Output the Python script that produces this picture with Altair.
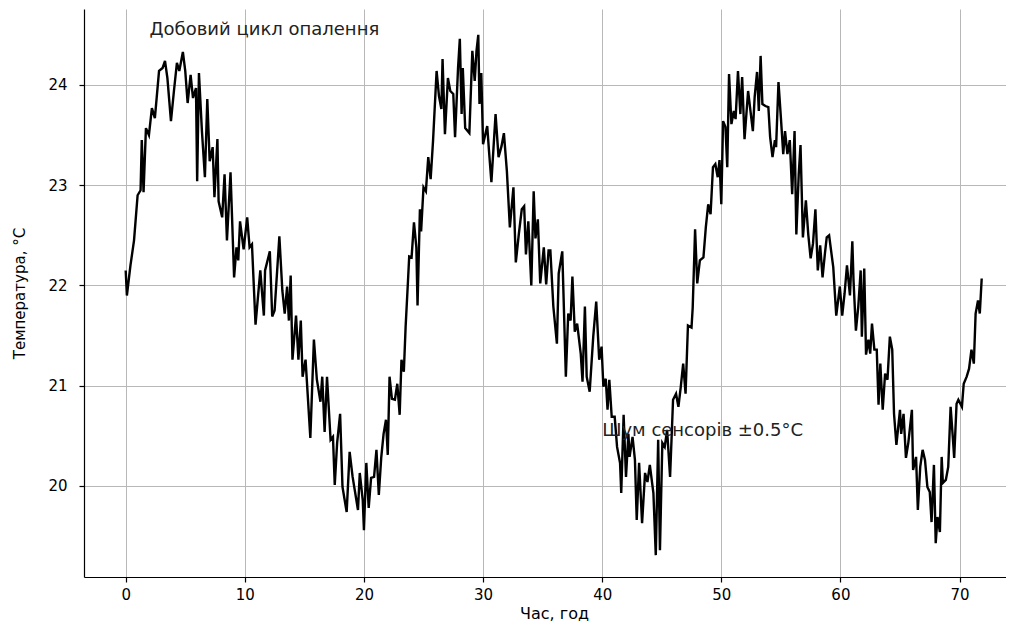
import altair as alt
import pandas as pd

hours = [
    0, 0.1, 0.4, 0.7, 1.0, 1.25, 1.35, 1.5, 1.7, 1.95, 2.2, 2.45, 2.8, 3.1, 3.3, 3.5, 3.8, 4.05, 4.3, 4.5,
    4.8, 5.0, 5.2, 5.45, 5.65, 5.9, 6.0, 6.15, 6.4, 6.65, 6.85, 7.05, 7.3, 7.45, 7.7, 7.8, 8.1, 8.3, 8.5, 8.8,
    9.1, 9.3, 9.45, 9.6, 9.9, 10.2, 10.4, 10.6, 10.9, 11.3, 11.6,
    11.7, 12.1, 12.3, 12.5, 12.9, 13.15, 13.35, 13.55, 13.7, 13.85, 14.0, 14.3, 14.5, 14.7, 14.85, 15.1, 15.5,
    15.8, 16.05, 16.35, 16.5, 16.7, 16.9, 17.2, 17.4, 17.55, 17.75, 18.0, 18.2, 18.55, 18.8, 19.05, 19.5, 19.65,
    19.9, 20.0, 20.2, 20.4, 20.6, 20.85, 21.05, 21.25, 21.45, 21.65, 21.85, 22.0, 22.15, 22.35, 22.6, 22.8,
    23.0, 23.15, 23.35, 23.5, 23.7, 23.8,
    24.0, 24.2, 24.4, 24.5, 24.7, 24.8, 25.0, 25.2, 25.4, 25.6, 25.8, 26.1, 26.3, 26.5, 26.6, 26.8, 27.05,
    27.25, 27.5, 27.65, 27.9, 28.05, 28.2, 28.3, 28.5, 28.85, 29.1, 29.3, 29.45, 29.6, 29.7, 29.85, 30.0,
    30.35, 30.5, 30.7, 31.05, 31.3, 31.55, 31.75, 32.0, 32.25, 32.55, 32.75, 33.0, 33.25, 33.45, 33.6, 33.8,
    34.05, 34.25, 34.4, 34.6, 34.8, 35.1, 35.3, 35.5,
    35.65, 35.9, 36.2, 36.35, 36.65, 36.95, 37.15, 37.35, 37.5, 37.7, 37.9, 38.2, 38.35, 38.55, 38.7, 38.95,
    39.25, 39.5, 39.75, 39.95, 40.1, 40.3, 40.45, 40.6, 40.8, 41.05, 41.25, 41.5, 41.6, 41.8, 42.0, 42.2,
    42.3, 42.55, 42.75, 42.9, 43.1, 43.35, 43.6, 43.8, 44.0, 44.3, 44.5, 44.7, 44.85, 45.05, 45.25, 45.45,
    45.7, 45.95, 46.2, 46.4, 46.6, 46.8, 47.0, 47.2,
    47.5, 47.6, 47.8, 47.98, 48.2, 48.5, 48.7, 48.9, 49.1, 49.3, 49.5, 49.7, 49.85, 50.0, 50.15, 50.35,
    50.5, 50.65, 50.85, 51.05, 51.2, 51.4, 51.6, 51.75, 51.95, 52.25, 52.45, 52.65, 52.8, 53.0, 53.15, 53.3,
    53.45, 53.7, 53.95, 54.1, 54.3, 54.5, 54.6, 54.8, 55.0, 55.2, 55.35, 55.55, 55.75, 55.95, 56.15, 56.3,
    56.5, 56.65, 56.85, 57.1, 57.3, 57.5, 57.7, 57.9, 58.1, 58.3, 58.5, 58.7, 58.85, 59.05,
    59.4, 59.65, 59.95, 60.15, 60.35, 60.55, 60.8, 61.0, 61.1, 61.3, 61.5, 61.7, 61.8, 62.0, 62.15, 62.35,
    62.5, 62.65, 62.85, 63.05, 63.2, 63.35, 63.55, 63.75, 63.95, 64.15, 64.35, 64.5, 64.7, 65.0, 65.1, 65.3,
    65.5, 65.7, 66.0, 66.1, 66.35, 66.5, 66.7, 66.9, 67.1, 67.3, 67.5, 67.65, 67.85, 68.0, 68.15, 68.35,
    68.5, 68.6, 68.85, 69.05, 69.25, 69.45, 69.55, 69.75, 69.9, 70.2, 70.35, 70.6, 70.8, 71.0, 71.2, 71.35,
    71.55, 71.7, 71.86,
]

temps = [
    22.15, 21.9, 22.2, 22.45, 22.9, 22.95, 23.45, 22.93, 23.57, 23.5, 23.77, 23.67, 24.14, 24.17, 24.24, 24.07, 23.64, 23.94, 24.22, 24.14,
    24.33, 24.14, 23.82, 24.1, 23.87, 23.97, 23.04, 24.12, 23.54, 23.08, 23.86, 23.24, 23.38, 22.88, 23.46, 22.84, 22.68, 23.11, 22.45, 23.13,
    22.08, 22.38, 22.25, 22.64, 22.36, 22.68, 22.38, 22.41, 21.61, 22.15, 21.7,
    22.15, 22.34, 21.69, 21.75, 22.49, 21.95, 21.72, 21.99, 21.65, 22.1, 21.26, 21.7, 21.26, 21.65, 21.09, 21.26, 20.48,
    21.46, 21.06, 20.84, 21.09, 20.54, 21.09, 20.46, 20.49, 20.01, 20.43, 20.72, 19.99, 19.74, 20.34, 20.09, 19.76, 20.13,
    19.86, 19.56, 20.23, 19.78, 20.08, 20.09, 20.36, 19.91, 20.28, 20.52, 20.66, 20.31, 21.09, 20.87, 20.86, 21.02,
    20.71, 21.26, 21.14, 21.59, 22.05, 22.29,
    22.28, 22.63, 22.38, 21.8, 22.76, 22.54, 22.98, 22.94, 23.28, 23.06, 23.44, 24.14, 23.89, 23.76, 24.26, 23.51, 24.07,
    23.94, 23.91, 23.48, 24.17, 24.46, 23.71, 24.17, 23.57, 23.52, 24.34, 24.04, 24.34, 24.5, 23.81, 24.12, 23.41,
    23.59, 23.34, 23.03, 23.71, 23.28, 23.39, 23.52, 23.14, 22.58, 22.98, 22.23, 22.51, 22.76, 22.79, 22.31, 22.64,
    22.0, 22.94, 22.47, 22.66, 22.02, 22.38, 22.01, 22.35,
    22.35, 21.79, 21.42, 22.12, 22.34, 21.09, 21.72, 21.65, 22.09, 21.54, 21.62, 21.32, 21.04, 21.79, 21.09, 20.94,
    21.49, 21.84, 21.26, 21.39, 20.99, 21.07, 20.76, 21.06, 20.69, 20.69, 20.39, 20.23, 19.93, 20.71, 20.09, 20.52,
    20.29, 20.49, 20.26, 19.66, 20.23, 19.63, 20.13, 20.04, 20.21, 19.93, 19.31, 20.46, 19.36, 20.43, 20.39, 20.56,
    20.09, 20.86, 20.92, 20.79, 20.99, 21.22, 20.92, 21.6,
    21.58, 21.78, 22.56, 22.02, 22.25, 22.28, 22.58, 22.81, 22.71, 23.18, 23.21, 23.08, 23.25, 22.81, 23.64, 23.58,
    23.18, 24.11, 23.61, 23.74, 23.66, 24.14, 23.71, 24.08, 23.46, 23.94, 23.74, 23.54, 23.88, 24.13, 23.74, 24.29,
    23.81, 23.79, 23.78, 23.48, 23.28, 23.45, 23.38, 24.03, 23.68, 23.31, 23.54, 23.31, 23.45, 22.91, 23.54, 22.51,
    23.11, 23.4, 22.48, 22.85, 22.51, 22.27, 22.42, 22.76, 22.15, 22.4, 22.08, 22.32, 22.48, 22.5,
    22.18, 21.7, 21.99, 21.7, 21.92, 22.2, 21.9, 22.44, 22.05, 21.55, 21.79, 22.15, 21.49, 22.17, 21.31, 21.46,
    21.32, 21.62, 21.36, 21.36, 20.81, 21.22, 20.76, 21.12, 21.06, 21.49, 21.36, 20.72, 20.41, 20.76, 20.52, 20.72,
    20.28, 20.43, 20.76, 20.16, 20.29, 19.76, 20.19, 20.36, 20.26, 19.99, 19.94, 19.64, 20.21, 19.43, 19.69, 19.54,
    20.29, 20.03, 20.06, 20.19, 20.79, 20.46, 20.28, 20.82, 20.86, 20.79, 21.02, 21.09, 21.17, 21.36, 21.22, 21.72,
    21.85, 21.72, 22.07,
]

note_x = [2, 40]
note_y = [24.5, 20.5]
note_text = ["Добовий цикл опалення", "Шум сенсорів ±0.5°C"]

x_ticks = [0, 10, 20, 30, 40, 50, 60, 70]
y_ticks = [20, 21, 22, 23, 24]

df = pd.DataFrame({"hour": hours, "temp": temps})
notes = pd.DataFrame({"x": note_x, "y": note_y, "text": note_text})

FONT = "DejaVu Sans"

xscale = alt.Scale(domain=[-3.5, 73.9], nice=False, zero=False)
yscale = alt.Scale(domain=[19.092, 24.758], nice=False, zero=False)

line = alt.Chart(df).mark_line(color="black", strokeWidth=2.4).encode(
    x=alt.X("hour:Q", scale=xscale,
            axis=alt.Axis(title="Час, год", values=x_ticks, format="d",
                          titleX=470, titlePadding=3, labelPadding=5,
                          titleFontSize=16)),
    y=alt.Y("temp:Q", scale=yscale,
            axis=alt.Axis(title="Температура, °C", values=y_ticks, format="d",
                          labelPadding=12, titlePadding=20)),
)

text = alt.Chart(notes).mark_text(
    align="left", baseline="alphabetic", font=FONT, fontSize=18, color="#222222"
).encode(
    x=alt.X("x:Q", scale=xscale),
    y=alt.Y("y:Q", scale=yscale),
    text="text:N",
)

chart = (line + text).properties(
    width=922, height=568,
    autosize="none",
    padding={"left": 76, "top": 1, "right": 0, "bottom": 44},
).configure_view(stroke=None).configure_axis(
    grid=True, gridColor="#b8b8b8", gridWidth=1,
    domainColor="black", domainWidth=1.2,
    tickColor="black", tickSize=5, tickWidth=1.2,
    labelFont=FONT, labelFontSize=15, labelColor="black",
    titleFont=FONT, titleFontSize=15, titleColor="black", titleFontWeight="normal",
)

chart.save("out.html", embed_options={"renderer": "svg", "actions": False})
